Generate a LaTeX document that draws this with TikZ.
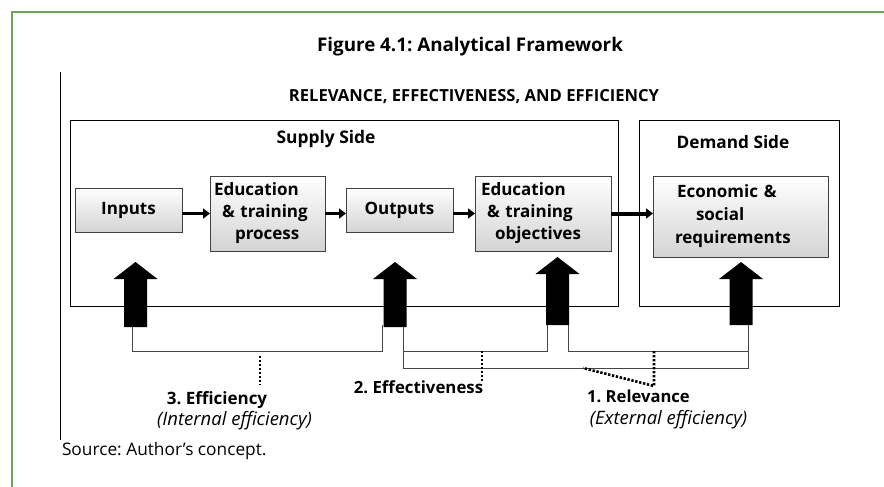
\documentclass[tikz,border=0pt]{standalone}
\usepackage{fontspec}
\setmainfont{Open Sans}
\usetikzlibrary{arrows.meta}
\definecolor{framegreen}{RGB}{112,163,90}
\definecolor{linegray}{RGB}{70,70,70}
\frenchspacing
\newcommand\blockarrow[3]{% centre x, tip y, bottom y
  \fill[black] ({#1-11.5},#3) -- ({#1-11.5},{#2+17}) -- ({#1-22},{#2+17}) -- (#1,#2)
    -- ({#1+22},{#2+17}) -- ({#1+11.5},{#2+17}) -- ({#1+11.5},#3) -- cycle;}
\begin{document}
\begin{tikzpicture}[x=1pt,y=-1pt,
  every node/.style={inner sep=0pt, outer sep=0pt},
  boldtext/.style={font=\bfseries\fontsize{17}{22}\selectfont},
  subtext/.style={font=\itshape\fontsize{18.5}{22}\selectfont},
  box/.style={boldtext, draw=black!75, line width=0.8pt, top color=white, bottom color=black!17},
  side/.style={draw=black, line width=0.8pt},
  flow/.style={line width=3.2pt, -{Triangle[length=7pt,width=10pt]}},
  bracket/.style={draw=linegray, line width=0.9pt},
  dots/.style={line width=2.6pt, dash pattern=on 2.4pt off 1.6pt}]
\useasboundingbox (0,0) rectangle (884,487);
% outer frame and margin rule
\draw[framegreen, line width=2.5pt] (884,12) -- (12,12) -- (12,487);
\draw[black, line width=0.8pt] (60,72) -- (60,440);
% headings
\node[font=\bfseries\fontsize{18.8}{22}\selectfont] (title) at (470,47) {Figure 4.1: Analytical Framework};
\node[font=\bfseries\fontsize{16.6}{20}\selectfont] (heading) at (474,97) {RELEVANCE, EFFECTIVENESS, AND EFFICIENCY};
% supply and demand panels
\node[side, minimum width=548, minimum height=186] (supply) at (344,213) {};
\node[side, minimum width=200, minimum height=186] (demand) at (739,213) {};
\node[boldtext, font=\bfseries\fontsize{17.4}{22}\selectfont] (supplylab) at (326,139) {Supply Side};
\node[boldtext, font=\bfseries\fontsize{17.2}{22}\selectfont] (demandlab) at (733,142) {Demand Side};
% process chain
\node[box, minimum width=107, minimum height=44] (inputs) at (128.5,210) {Inputs};
\node[box, minimum width=115, minimum height=75, align=left, text width=107] (process) at (267.5,213.5)
  {Education\\\hspace*{8pt}\& training\\\hspace*{21pt}process};
\node[box, minimum width=107, minimum height=44] (outputs) at (399.5,210) {Outputs};
\node[box, minimum width=136, minimum height=75, align=left, text width=124] (objectives) at (543,213.5)
  {Education\\\hspace*{6pt}\& training\\\hspace*{14pt}objectives};
\node[box, minimum width=175, minimum height=81, align=left, text width=131, font=\bfseries\fontsize{17}{23}\selectfont] (economic) at (740.5,216.5)
  {\hspace*{2pt}Economic \&\\\hspace*{21pt}social\\requirements};
\draw[flow] (inputs.east |- process.west) -- (process.west);
\draw[flow] (process.east) -- (outputs.west |- process.east);
\draw[flow] (outputs.east |- objectives.west) -- (objectives.west);
\draw[flow, line width=4pt] (objectives.east) -- (economic.west |- objectives.east);
% feedback block arrows
\blockarrow{135.5}{262}{327}
\blockarrow{395}{262}{327}
\blockarrow{557.5}{257}{325}
\blockarrow{741}{262}{325}
% brackets joining the arrows
\draw[bracket] (132,327) -- (132,351) -- (382,351) -- (382,325);
\draw[bracket] (403,327) -- (403,368) -- (748,368) -- (748,325);
\draw[bracket] (403,351) -- (547,351) -- (547,325);
\draw[bracket] (568,325) -- (568,351) -- (748,351);
% dotted leaders to the labels
\coordinate (effdot) at (260,385);
\coordinate (effectdot) at (482,382);
\coordinate (reldot) at (654,386);
\draw[dots] (260,356) -- (effdot);
\draw[dots] (482,351) -- (effectdot);
\draw[dots] (654,351) -- (reldot) -- (583,368);
% labels
\node[boldtext] (efflab) at (217,400) {3. Efficiency};
\node[subtext] (effsub) at (234.5,421) {(Internal efficiency)};
\node[boldtext, font=\bfseries\fontsize{16.8}{22}\selectfont] (effectlab) at (418.5,387) {2. Effectiveness};
\node[boldtext, font=\bfseries\fontsize{16.6}{22}\selectfont] (rellab) at (638.5,396) {1. Relevance};
\node[subtext] (relsub) at (668.5,420) {(External efficiency)};
\node[anchor=west, font=\fontsize{17.3}{20}\selectfont] (source) at (62,451) {Source: Author’s concept.};
\end{tikzpicture}
\end{document}
